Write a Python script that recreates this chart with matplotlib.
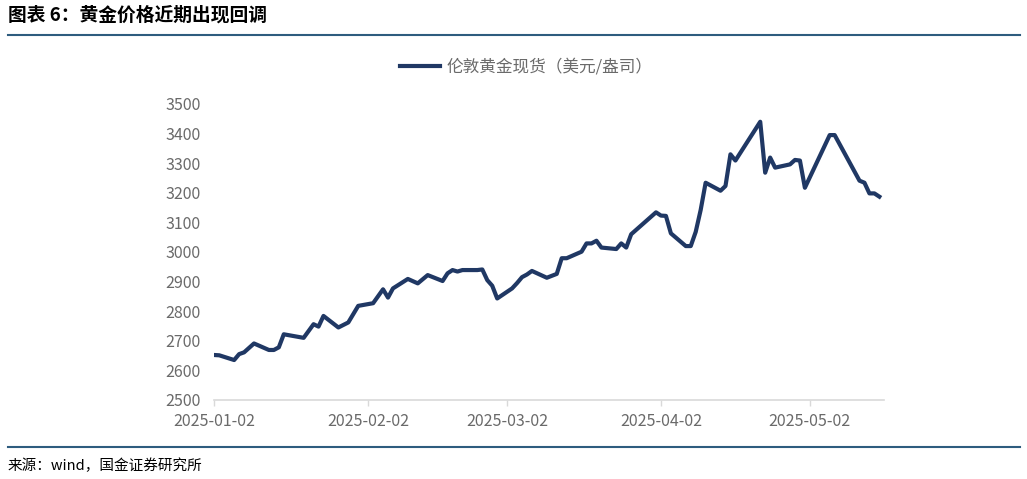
import matplotlib
matplotlib.use("Agg")
import matplotlib.pyplot as plt
import matplotlib.dates as mdates
import numpy as np

plt.rcParams['font.family'] = ['Noto Sans CJK SC', 'DejaVu Sans']

# London spot gold, USD/oz
dates = [
    "2025-01-02", "2025-01-03", "2025-01-06", "2025-01-07", "2025-01-08",
    "2025-01-10", "2025-01-13", "2025-01-14", "2025-01-15", "2025-01-16",
    "2025-01-20", "2025-01-22", "2025-01-23", "2025-01-24", "2025-01-27",
    "2025-01-29", "2025-01-31", "2025-02-03", "2025-02-05", "2025-02-06",
    "2025-02-07", "2025-02-10", "2025-02-12", "2025-02-14", "2025-02-17",
    "2025-02-18", "2025-02-19", "2025-02-20", "2025-02-21", "2025-02-24",
    "2025-02-25", "2025-02-26", "2025-02-27", "2025-02-28", "2025-03-03",
    "2025-03-04", "2025-03-05", "2025-03-06", "2025-03-07", "2025-03-10",
    "2025-03-12", "2025-03-13", "2025-03-14", "2025-03-17", "2025-03-18",
    "2025-03-19", "2025-03-20", "2025-03-21", "2025-03-24", "2025-03-25",
    "2025-03-26", "2025-03-27", "2025-04-01", "2025-04-02", "2025-04-03",
    "2025-04-04", "2025-04-07", "2025-04-08", "2025-04-09", "2025-04-10",
    "2025-04-11", "2025-04-14", "2025-04-15", "2025-04-16", "2025-04-17",
    "2025-04-22", "2025-04-23", "2025-04-24", "2025-04-25", "2025-04-28",
    "2025-04-29", "2025-04-30", "2025-05-01", "2025-05-06", "2025-05-07",
    "2025-05-12", "2025-05-13", "2025-05-14", "2025-05-15", "2025-05-16",
]
gold = [
    2652, 2651, 2635, 2655, 2661,
    2691, 2669, 2669, 2678, 2722,
    2710, 2756, 2748, 2784, 2745,
    2762, 2818, 2827, 2874, 2846,
    2877, 2909, 2894, 2922, 2902,
    2928, 2939, 2934, 2939, 2939,
    2941, 2905, 2886, 2843, 2877,
    2895, 2915, 2924, 2936, 2913,
    2926, 2979, 2979, 3001, 3029,
    3029, 3038, 3015, 3010, 3029,
    3015, 3060, 3134, 3123, 3122,
    3063, 3020, 3020, 3068, 3142,
    3234, 3207, 3223, 3330, 3309,
    3440, 3268, 3319, 3285, 3296,
    3311, 3309, 3217, 3395, 3395,
    3241, 3234, 3198, 3198, 3187,
]
tick_dates = ["2025-01-02", "2025-02-02", "2025-03-02", "2025-04-02", "2025-05-02"]
y_ticks = [2500, 2600, 2700, 2800, 2900, 3000, 3100, 3200, 3300, 3400, 3500]

title = "图表 6：黄金价格近期出现回调"
series_name = "伦敦黄金现货（美元/盎司）"
source = "来源：wind，国金证券研究所"

x = np.array(dates, dtype="datetime64[D]")
W, H = 1027, 479
fig = plt.figure(figsize=(W / 100, H / 100), dpi=100)
ax = fig.add_axes([214.3 / W, 1 - 400 / H, 670 / W, 296 / H])

navy = "#203864"
grey = "#6a6a6a"
ax.plot(x, gold, color=navy, lw=3, solid_joinstyle="round", label=series_name)

ax.set_ylim(2500, 3500)
ax.set_yticks(y_ticks)
ax.set_xlim(np.datetime64("2025-01-02"), np.datetime64("2025-05-17"))
ax.set_xticks(np.array(tick_dates, dtype="datetime64[D]"))
ax.xaxis.set_major_formatter(mdates.DateFormatter("%Y-%m-%d"))

for s in ["top", "right", "left"]:
    ax.spines[s].set_visible(False)
ax.spines["bottom"].set_color("#d9d9d9")
ax.spines["bottom"].set_linewidth(1.2)
ax.tick_params(axis="y", length=0, pad=10, labelsize=11.5, labelcolor=grey)
ax.tick_params(axis="x", length=4, width=1, color="#d9d9d9", pad=5,
               labelsize=11.5, labelcolor=grey)

fig.legend(loc="center", bbox_to_anchor=(526 / W, 1 - 67 / H), frameon=False,
           fontsize=12, labelcolor=grey, handlelength=2.4, handletextpad=0.4)

fig.text(8 / W, 1 - 15 / H, title, fontsize=13.5, fontweight="bold",
         style="italic", va="center", ha="left", color="black")
fig.add_artist(plt.Line2D([8 / W, 1020 / W], [1 - 35 / H, 1 - 35 / H],
                          color="#2e5c7e", lw=1.5))
fig.add_artist(plt.Line2D([8 / W, 1020 / W], [1 - 447 / H, 1 - 447 / H],
                          color="#2e5c7e", lw=1.5))
fig.text(8 / W, 1 - 466 / H, source, fontsize=10.5, va="center", ha="left",
         color="black")

fig.savefig("out.png", dpi=100)
